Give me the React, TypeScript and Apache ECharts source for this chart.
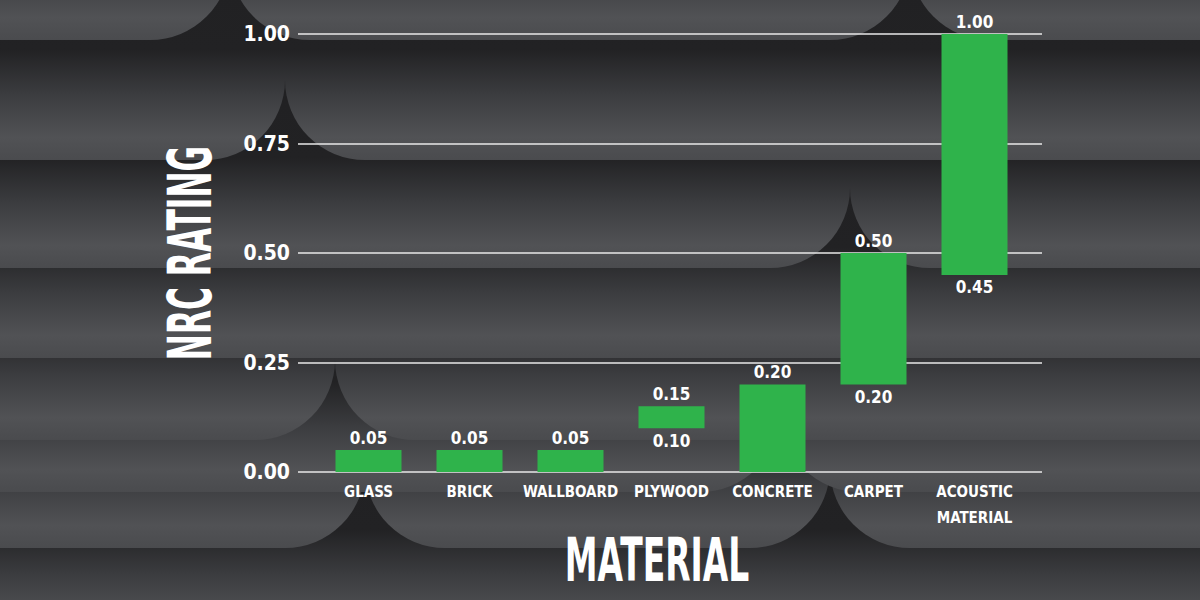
import React, { useEffect, useRef } from "react";
import * as echarts from "echarts";

// NRC (noise reduction coefficient) range per material
const categories = ["GLASS", "BRICK", "WALLBOARD", "PLYWOOD", "CONCRETE", "CARPET", "ACOUSTIC\nMATERIAL"];
const lowValues = [0, 0, 0, 0.1, 0, 0.2, 0.45];
const highValues = [0.05, 0.05, 0.05, 0.15, 0.2, 0.5, 1.0];
const yMin = 0;
const yMax = 1;
const yStep = 0.25;

const FONT = '"Liberation Sans Narrow", "DejaVu Sans Condensed", "Roboto", sans-serif';

// felt panel rows behind the chart (bottom edge and where panels join)
const panelRows = [
    { bottom: 640, splits: [] as number[] },
    { bottom: 548, splits: [365, 830] },
    { bottom: 492, splits: [780] },
    { bottom: 440, splits: [335] },
    { bottom: 358, splits: [] as number[] },
    { bottom: 268, splits: [850] },
    { bottom: 160, splits: [285] },
    { bottom: 40, splits: [230, 910] },
];

const buildBackground = () => {
    const els: any[] = [];
    panelRows.forEach((row) => {
        const edges = [-120, ...row.splits, 1320];
        for (let i = 0; i < edges.length - 1; i++) {
            els.push({
                type: "rect",
                silent: true,
                z: -100,
                shape: { x: edges[i], y: row.bottom - 220, width: edges[i + 1] - edges[i], height: 220, r: [0, 0, 80, 80] },
                style: {
                    fill: new echarts.graphic.LinearGradient(0, 0, 0, 1, [
                        { offset: 0, color: "#202022" },
                        { offset: 0.5, color: "#222224" },
                        { offset: 0.7, color: "#3b3c3f" },
                        { offset: 0.9, color: "#515255" },
                        { offset: 1, color: "#4a4b4e" },
                    ]),
                },
            });
        }
    });
    return els;
};

const App = () => {
    const chartRef = useRef(null);

    useEffect(() => {
        if (!chartRef.current) return;
        document.body.style.margin = "0";
        const chart = echarts.init(chartRef.current, null, { renderer: "svg" });

        const option = {
            animation: false,
            backgroundColor: "#1d1d1f",
            graphic: [
                ...buildBackground(),
                {
                    type: "text",
                    z: 100,
                    x: 190,
                    y: 253,
                    rotation: Math.PI / 2,
                    scaleX: 0.57,
                    style: {
                        text: "NRC RATING",
                        fill: "#ffffff",
                        font: `bold 61px ${FONT}`,
                        textAlign: "center",
                        textVerticalAlign: "middle",
                    },
                },
                {
                    type: "text",
                    z: 100,
                    x: 657,
                    y: 560,
                    scaleX: 0.6,
                    style: {
                        text: "MATERIAL",
                        fill: "#ffffff",
                        font: `bold 61px ${FONT}`,
                        textAlign: "center",
                        textVerticalAlign: "middle",
                    },
                },
            ],
            grid: [
                { left: 298, right: 158, top: 34, bottom: 128 },
                { left: 318, right: 175, top: 34, bottom: 128 },
            ],
            xAxis: [
                { gridIndex: 0, type: "category", data: categories, show: false },
                {
                    gridIndex: 1,
                    type: "category",
                    data: categories,
                    axisLine: { show: false },
                    axisTick: { show: false },
                    axisLabel: {
                        color: "#ffffff",
                        fontFamily: FONT,
                        fontWeight: "bold",
                        fontSize: 15,
                        lineHeight: 26,
                        margin: 7,
                        interval: 0,
                    },
                },
            ],
            yAxis: [
                {
                    gridIndex: 0,
                    type: "value",
                    min: yMin,
                    max: yMax,
                    interval: yStep,
                    axisLine: { show: false },
                    axisTick: { show: false },
                    axisLabel: {
                        color: "#ffffff",
                        fontFamily: FONT,
                        fontWeight: "bold",
                        fontSize: 21,
                        margin: 8,
                        formatter: (v: number) => v.toFixed(2),
                    },
                    splitLine: { lineStyle: { color: "#e8e8e8", width: 1.5 } },
                },
                { gridIndex: 1, type: "value", min: yMin, max: yMax, interval: yStep, show: false },
            ],
            series: [
                {
                    name: "base",
                    type: "bar",
                    xAxisIndex: 1,
                    yAxisIndex: 1,
                    stack: "range",
                    barWidth: 66,
                    data: lowValues,
                    itemStyle: { color: "rgba(0,0,0,0)" },
                    label: {
                        show: true,
                        position: "insideTop",
                        distance: 4,
                        color: "#ffffff",
                        fontFamily: FONT,
                        fontWeight: "bold",
                        fontSize: 17,
                        formatter: (p: any) => (lowValues[p.dataIndex] > 0 ? lowValues[p.dataIndex].toFixed(2) : ""),
                    },
                },
                {
                    name: "NRC",
                    type: "bar",
                    xAxisIndex: 1,
                    yAxisIndex: 1,
                    stack: "range",
                    barWidth: 66,
                    data: highValues.map((h, i) => h - lowValues[i]),
                    itemStyle: { color: "#2fb34b" },
                    label: {
                        show: true,
                        position: "top",
                        distance: 4,
                        color: "#ffffff",
                        fontFamily: FONT,
                        fontWeight: "bold",
                        fontSize: 17,
                        formatter: (p: any) => highValues[p.dataIndex].toFixed(2),
                    },
                },
            ],
        };

        chart.setOption(option);
        return () => chart.dispose();
    }, []);

    return <div ref={chartRef} style={{ width: "1200px", height: "600px" }} />;
};

export default App;
